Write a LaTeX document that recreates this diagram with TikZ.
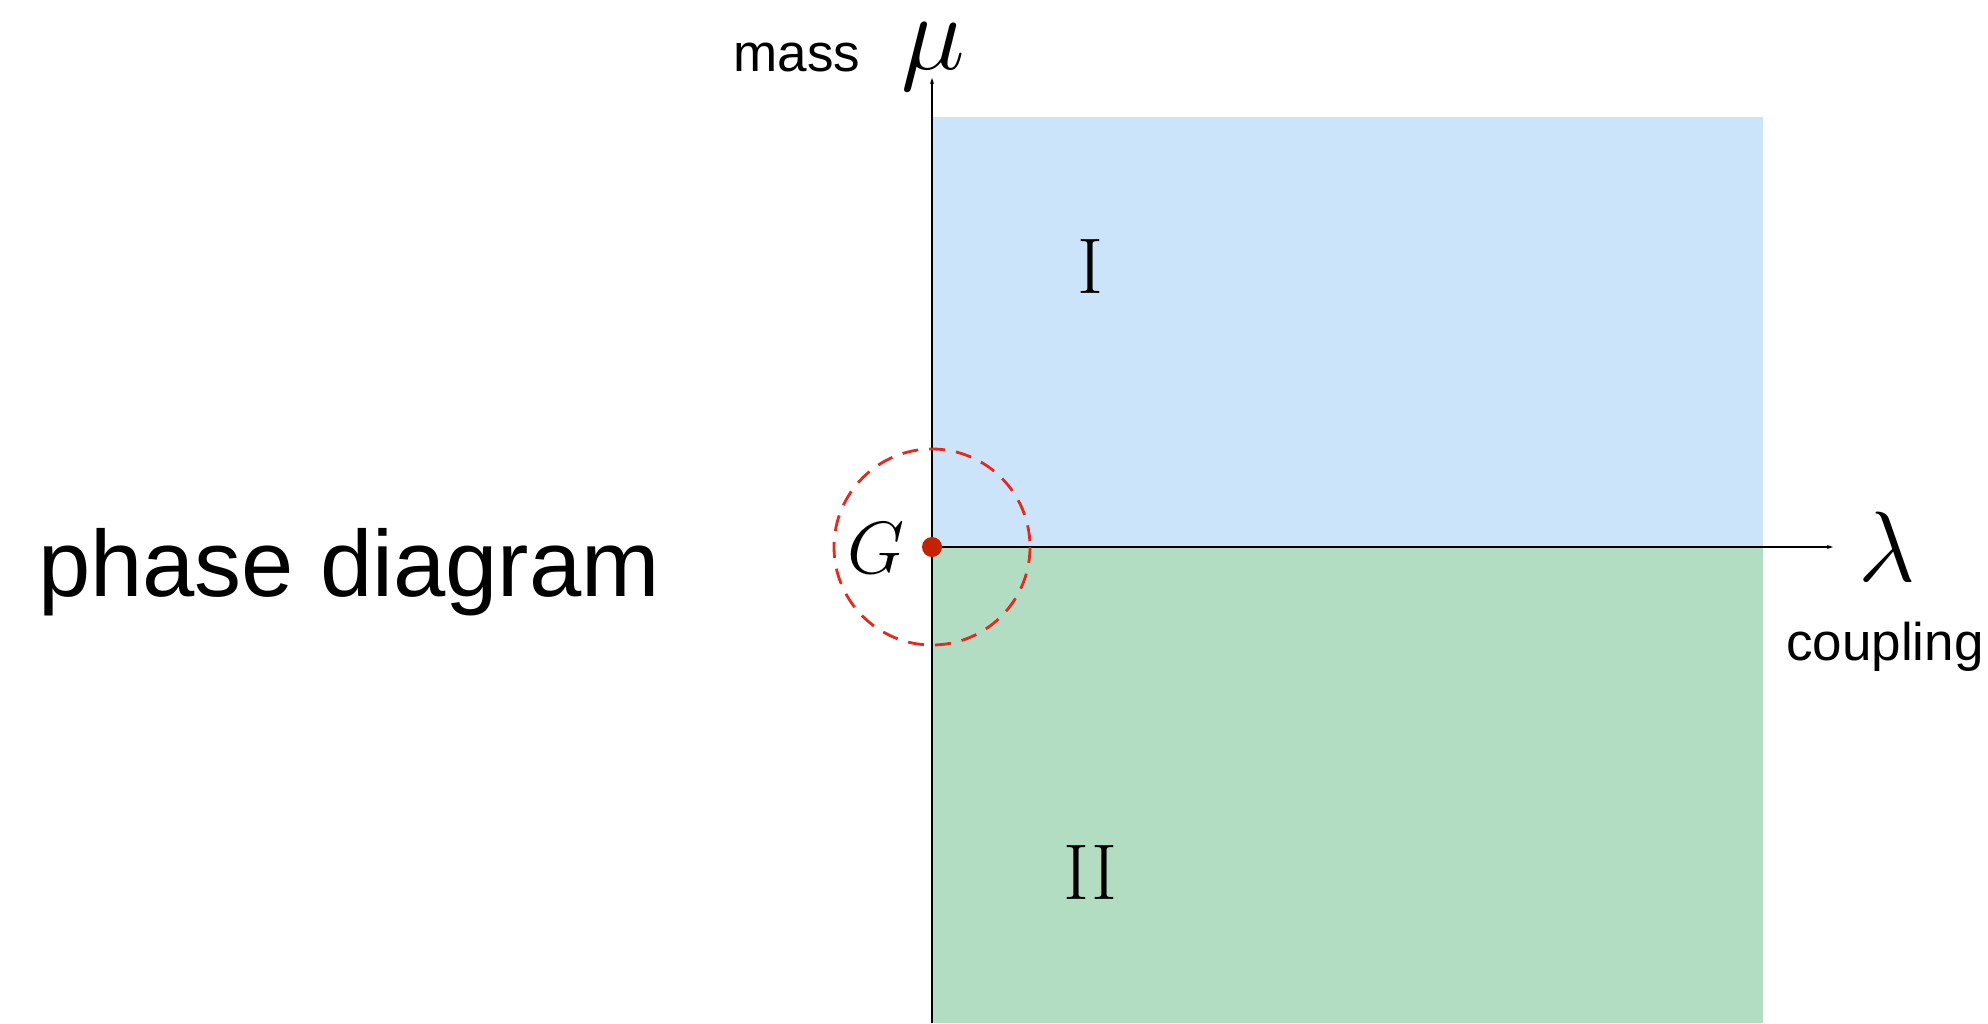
\RequirePackage{fix-cm}
\documentclass[tikz,border=0pt]{standalone}
\usepackage{fontspec}
\setsansfont{Liberation Sans}
\usetikzlibrary{arrows.meta}
\definecolor{regionI}{RGB}{203,228,249}
\definecolor{regionII}{RGB}{179,221,195}
\definecolor{ringred}{RGB}{232,40,30}
\definecolor{dotred}{RGB}{196,34,0}
\tikzset{
  axis/.style={line width=1.1pt, -{Stealth[length=6pt,width=4pt]}},
  sanslabel/.style={inner sep=0pt, font=\sffamily\fontsize{53}{60}\selectfont},
  mathlabel/.style={inner sep=0pt},
  roman/.style={inner sep=0pt, font=\fontsize{79}{90}\selectfont},
}
\begin{document}
\begin{tikzpicture}[x=1pt,y=-1pt]
\useasboundingbox (0,0) rectangle (1988,1023);
% regions
\fill[regionI] (932,117) rectangle (1763,547);
\fill[regionII] (932,547) rectangle (1763,1023);
% axes
\coordinate (O) at (932,547);
\coordinate (ytop) at (932,78);
\coordinate (ybot) at (932,1023);
\coordinate (xend) at (1833,547);
\draw[axis] (ybot) -- (ytop);
\draw[axis] (O) -- (xend);
% labels
\node[mathlabel, font=\fontsize{108}{120}\selectfont] (mu) at (933,57) {$\mu$};
\node[sanslabel, anchor=base] (mass) at (797,71) {mass};
\node[mathlabel, font=\fontsize{100}{110}\selectfont] (lam) at (1887,547) {$\lambda$};
\node[sanslabel, anchor=base west] (coupling) at (1786,660) {coupling};
\node[inner sep=0pt, anchor=base west, font=\sffamily\fontsize{94}{100}\selectfont] (title) at (38,596) {phase diagram};
\node[roman] (one) at (1090,267) {I};
\node[roman] (two) at (1090,873) {II};
% fixed point
\draw[ringred, line width=2.8pt, dash pattern=on 16pt off 11pt] (O) circle[radius=98];
\fill[dotred] (O) circle[radius=10];
\node[mathlabel, font=\fontsize{74}{80}\selectfont] (G) at (876,548) {$G$};
\end{tikzpicture}
\end{document}
